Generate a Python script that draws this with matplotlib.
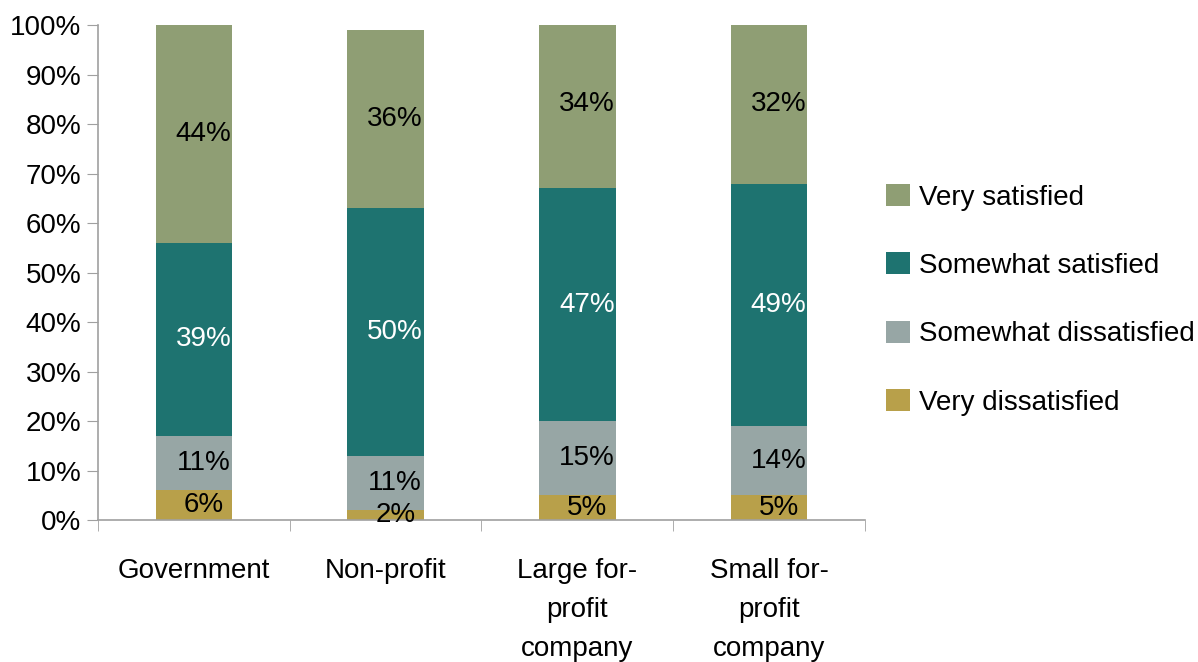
import numpy as np
import matplotlib.pyplot as plt

plt.rcParams['font.family'] = ['Liberation Sans', 'DejaVu Sans']

categories = ['Government', 'Non-profit', 'Large for-\nprofit\ncompany', 'Small for-\nprofit\ncompany']
series = ['Very dissatisfied', 'Somewhat dissatisfied', 'Somewhat satisfied', 'Very satisfied']
very_dissatisfied = [6, 2, 5, 5]
somewhat_dissatisfied = [11, 11, 15, 14]
somewhat_satisfied = [39, 50, 47, 49]
very_satisfied = [44, 36, 34, 32]

values = [very_dissatisfied, somewhat_dissatisfied, somewhat_satisfied, very_satisfied]
colors = ['#B8A04A', '#97A6A5', '#1E7370', '#8F9E74']
text_colors = ['black', 'black', 'white', 'black']

fig = plt.figure(figsize=(11.98, 6.62), dpi=100)
ax = fig.add_axes([0.0818, 0.2145, 0.6402, 0.7475])

x = np.arange(len(categories))
bottom = np.zeros(len(categories))
handles = []
for vals, col, tcol, name in zip(values, colors, text_colors, series):
    vals = np.array(vals)
    b = ax.bar(x, vals, 0.4, bottom=bottom, color=col, label=name)
    handles.append(b)
    for xi, v, bt in zip(x, vals, bottom):
        ax.text(xi + 0.05, bt + v / 2, f'{v}%', ha='center', va='center',
                color=tcol, fontsize=20)
    bottom += vals

ax.set_xlim(-0.5, 3.5)
ax.set_ylim(0, 100)
ax.set_yticks(np.arange(0, 101, 10))
ax.set_yticklabels([f'{t}%' for t in range(0, 101, 10)], fontsize=20)
ax.set_xticks(x)
ax.set_xticklabels(categories, fontsize=20, linespacing=1.66, va='top')
ax.set_xticks(np.arange(-0.5, 4, 1), minor=True)
ax.tick_params(axis='x', which='major', length=0, pad=27)
ax.tick_params(axis='x', which='minor', length=8, color='#a0a0a0', direction='out')
ax.tick_params(axis='y', length=8, color='#a0a0a0', pad=4)

for s in ['top', 'right']:
    ax.spines[s].set_visible(False)
for s in ['left', 'bottom']:
    ax.spines[s].set_color('#a0a0a0')
    ax.spines[s].set_linewidth(1.2)

ax.legend(handles[::-1], series[::-1], loc='center left', bbox_to_anchor=(0.995, 0.445),
          frameon=False, fontsize=20, handlelength=0.85, handleheight=0.85,
          labelspacing=1.5, handletextpad=0.35)

fig.savefig('out.png', dpi=100)
